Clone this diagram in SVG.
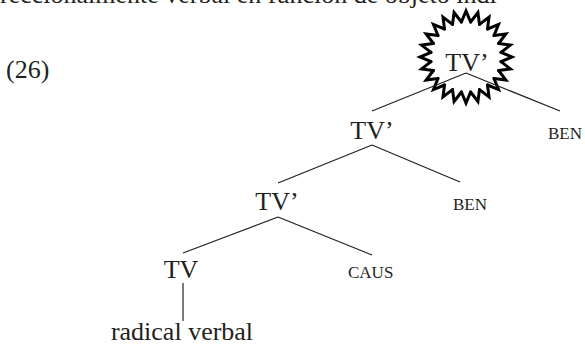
<svg xmlns="http://www.w3.org/2000/svg" xmlns:xlink="http://www.w3.org/1999/xlink" width="585" height="347" viewBox="0 0 585 347">
<style>
text{font-family:"Liberation Serif","Times New Roman",serif;fill:#231f20}
.n{font-size:26px;text-anchor:middle}
.s{font-size:17px}
.edge{stroke:#231f20;stroke-width:1.2;fill:none}
.burst{stroke:#000;stroke-width:3;fill:none;stroke-linecap:round;stroke-linejoin:miter}
</style>
<defs>
<path id="spike" d="M-4.6,-35 L0,-46 L4.6,-35"/>
</defs>
<rect width="585" height="347" fill="#fff"/>
<text x="0" y="3" style="font-size:26px">reccionalmente verbal en función de objeto indi</text>
<text x="6" y="78" style="font-size:26px">(26)</text>
<g id="burst" class="burst" transform="translate(466,57)">
<use xlink:href="#spike"/>
<use xlink:href="#spike" transform="rotate(15)"/>
<use xlink:href="#spike" transform="rotate(30)"/>
<use xlink:href="#spike" transform="rotate(45)"/>
<use xlink:href="#spike" transform="rotate(60)"/>
<use xlink:href="#spike" transform="rotate(75)"/>
<use xlink:href="#spike" transform="rotate(90)"/>
<use xlink:href="#spike" transform="rotate(105)"/>
<use xlink:href="#spike" transform="rotate(120)"/>
<use xlink:href="#spike" transform="rotate(135)"/>
<use xlink:href="#spike" transform="rotate(150)"/>
<use xlink:href="#spike" transform="rotate(165)"/>
<use xlink:href="#spike" transform="rotate(180)"/>
<use xlink:href="#spike" transform="rotate(195)"/>
<use xlink:href="#spike" transform="rotate(210)"/>
<use xlink:href="#spike" transform="rotate(225)"/>
<use xlink:href="#spike" transform="rotate(240)"/>
<use xlink:href="#spike" transform="rotate(255)"/>
<use xlink:href="#spike" transform="rotate(270)"/>
<use xlink:href="#spike" transform="rotate(285)"/>
<use xlink:href="#spike" transform="rotate(300)"/>
<use xlink:href="#spike" transform="rotate(315)"/>
<use xlink:href="#spike" transform="rotate(330)"/>
<use xlink:href="#spike" transform="rotate(345)"/>
</g>
<g id="connectors" class="edge">
<line x1="466" y1="73" x2="372" y2="111"/>
<line x1="466" y1="73" x2="560" y2="111"/>
<line x1="372" y1="145" x2="278" y2="183"/>
<line x1="372" y1="145" x2="460" y2="182"/>
<line x1="278" y1="217" x2="183" y2="253"/>
<line x1="278" y1="217" x2="372" y2="255"/>
<line x1="183" y1="283" x2="183" y2="321"/>
</g>
<g id="n1"><text class="n" x="467" y="71">TV’</text></g>
<g id="n2"><text class="n" x="372" y="139">TV’</text></g>
<g id="n3"><text class="s" x="548" y="139">BEN</text></g>
<g id="n4"><text class="n" x="277" y="210">TV’</text></g>
<g id="n5"><text class="s" x="453" y="210">BEN</text></g>
<g id="n6"><text class="n" x="181" y="278">TV</text></g>
<g id="n7"><text class="s" x="348" y="278">CAUS</text></g>
<g id="n8"><text class="n" x="182" y="340">radical verbal</text></g>
</svg>
